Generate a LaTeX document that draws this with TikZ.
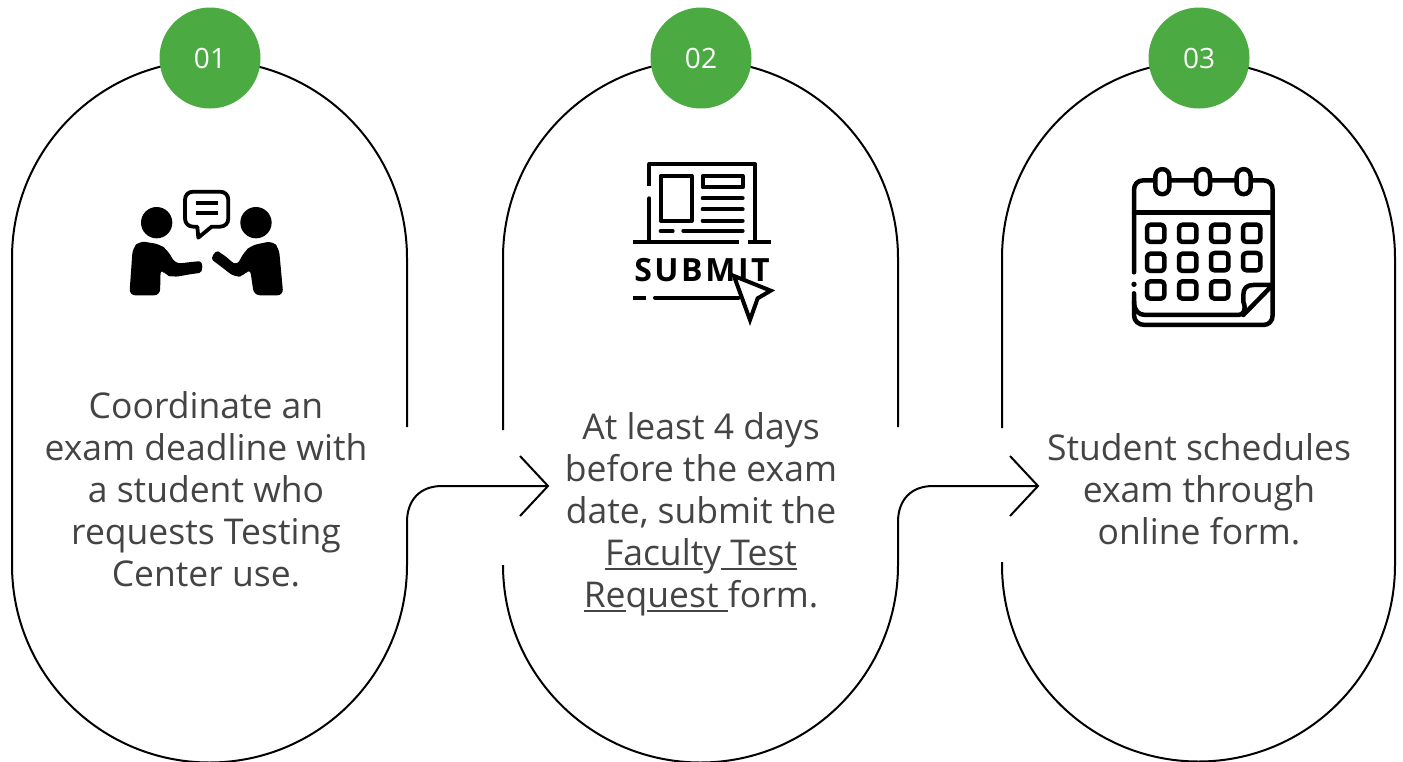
\documentclass[tikz,border=0pt]{standalone}
\usepackage{fontspec}
\setmainfont{Open Sans}
\newfontfamily\subfont[LetterSpace=8]{Open Sans}
\definecolor{grn}{HTML}{4BAA42}
\definecolor{txt}{HTML}{444444}
\tikzset{
  flow/.style={draw=black,line width=2pt,line cap=butt},
  tip/.style={draw=black,line width=2pt},
  badge/.style={circle,fill=grn,minimum size=101pt,inner sep=0pt,text=white,font=\fontsize{28}{32}\selectfont},
  body/.style={align=center,text=txt,font=\fontsize{35.5}{42}\selectfont,inner sep=0pt},
  ico/.style={draw=black,line width=4.5pt,line cap=round,line join=round},
  icothin/.style={draw=black,line width=4pt,line cap=round,line join=round},
}
\newsavebox{\ulbox}
\newcommand{\ulseg}[1]{\sbox{\ulbox}{#1}\rlap{\rule[-4.5pt]{\wd\ulbox}{2pt}}\usebox{\ulbox}}
\begin{document}
\begin{tikzpicture}[x=1pt,y=-1pt]
\useasboundingbox (0,0) rectangle (1403,761);
\fill[white] (0,0) rectangle (1403,761);
% anchors
\coordinate (c1a) at (407,427);
\coordinate (c1end) at (548,486);
\coordinate (c2a) at (898,427);
\coordinate (c2end) at (1038,486);
\coordinate (c2b) at (503,430);
\coordinate (c3b) at (1002,428);
% capsule 1 with connector
\draw[flow] (c1a) -- (407,258) arc[start angle=0,end angle=-180,radius=197.5] -- (12,565)
  arc[start angle=180,end angle=0,radius=197.5] -- (407,522)
  .. controls (407,500) and (420,486) .. (442,486) -- (c1end);
\draw[tip] (520,456) -- (c1end) -- (520,516);
% capsule 2 with connector
\draw[flow] (c2b) -- (503,258) arc[start angle=180,end angle=360,radius=197.5] -- (c2a);
\draw[flow] (503,565) arc[start angle=180,end angle=0,radius=197.5] -- (898,522)
  .. controls (898,500) and (911,486) .. (933,486) -- (c2end);
\draw[tip] (1010,456) -- (c2end) -- (1010,516);
% capsule 3
\draw[flow] (c3b) -- (1002,258) arc[start angle=180,end angle=360,radius=196.5] -- (1395,565)
  arc[start angle=0,end angle=180,radius=196.5] -- (1002,562);
% badges
\node[badge] (b1) at (210,58) {01};
\node[badge] (b2) at (701,58) {02};
\node[badge] (b3) at (1199,58) {03};
% texts
\node[body] (t1) at (206,489) {Coordinate an\\exam deadline with\\a student who\\requests Testing\\Center use.};
\node[body] (t2) at (701,514.5) {At least 4 days\\before the exam\\date, submit the\\\ulseg{Facult}y\ulseg{\ Test}\\\ulseg{Re}q\ulseg{uest\ }form.};
\node[body] (t3) at (1199,489) {Student schedules\\exam through\\online form.};
% icon 1: two people
\begin{scope}[shift={(110,170)},x=0.3333pt,y=-0.3333pt]
\fill (140,158) circle[radius=47];
\fill (438,158) circle[radius=47];
\fill[rounded corners=6pt] (58,376) -- (68,235) -- (88,213) -- (150,223) -- (172,240) -- (197,282) -- (250,275) .. controls (280,273) and (280,308) .. (250,311) -- (190,322) -- (165,314) -- (152,295) -- (150,376) -- cycle;
\fill[rounded corners=6pt] (520,376) -- (507,235) -- (488,213) -- (425,226) -- (403,245) -- (380,288) -- (340,253) .. controls (316,240) and (300,265) .. (323,282) -- (375,322) -- (402,317) -- (420,295) -- (432,376) -- cycle;
\draw[ico,line width=3.8pt] (250,65) -- (330,65) .. controls (345,65) and (355,75) .. (355,90) -- (355,145) .. controls (355,160) and (345,170) .. (330,170) -- (305,170) -- (265,203) -- (262,170) -- (250,170) .. controls (235,170) and (225,160) .. (225,145) -- (225,90) .. controls (225,75) and (235,65) .. (250,65) -- cycle;
\draw[ico,line width=3.8pt,line cap=butt] (258,100) -- (323,100) (258,130) -- (323,130);
\end{scope}
% icon 2: submit
\begin{scope}[shift={(610,150)},x=0.3333pt,y=-0.3333pt]
\draw[icothin,line cap=butt] (118,108) -- (118,42) -- (435,42) -- (435,270);
\draw[icothin] (118,145) -- (118,270);
\draw[icothin] (152,78) rectangle (245,212);
\draw[icothin] (278,78) rectangle (398,112);
\draw[icothin] (278,145) -- (398,145) (278,178) -- (398,178) (278,212) -- (398,212);
\draw[icothin] (152,243) -- (188,243) (220,243) -- (398,243);
\draw[icothin,line cap=butt] (68,276) -- (388,276) (415,276) -- (482,276);
\draw[icothin,line cap=butt] (68,443) -- (108,443);
\draw[icothin,line cap=round] (135,443) -- (385,443);
\node[inner sep=0pt,anchor=base,font=\subfont\bfseries\fontsize{32}{32}\selectfont] (sm) at (276,394) {SUBMIT};
\draw[icothin,fill=white,line join=miter] (372,378) -- (482,422) -- (443,445) -- (420,510) -- cycle;
\end{scope}
% icon 3: calendar
\begin{scope}[shift={(1115,155)},x=0.3333pt,y=-0.3333pt]
\draw[ico] (120,76) -- (85,76) .. controls (68,76) and (57,88) .. (57,105) -- (57,352);
\draw[ico] (165,76) -- (240,76) (288,76) -- (362,76) (410,76) -- (445,76) .. controls (462,76) and (473,88) .. (473,105) -- (473,440) -- (473,480) .. controls (473,498) and (462,510) .. (445,510) -- (90,510) .. controls (70,510) and (57,498) .. (57,480) -- (57,415);
\draw[ico] (57,172) -- (473,172);
\foreach \cx in {142,264,386}{
  \draw[ico] (\cx-21,65) .. controls (\cx-21,35) and (\cx+21,35) .. (\cx+21,65) -- (\cx+21,95) .. controls (\cx+21,125) and (\cx-21,125) .. (\cx-21,95) -- cycle;
}
\fill (57,388) circle[radius=8];
\foreach \cx/\cy in {122/235,218/235,314/235,410/235,122/322,218/322,314/320,410/320,122/405,218/405,314/405}{
  \draw[ico,rounded corners=3.5pt] (\cx-26,\cy-26) rectangle (\cx+26,\cy+26);
}
\draw[ico] (57,440) .. controls (57,465) and (70,480) .. (90,480) -- (370,480) .. controls (385,480) and (395,465) .. (385,440) -- (385,420) .. controls (385,400) and (395,390) .. (415,390) -- (473,390) -- (385,480);
\end{scope}
\end{tikzpicture}
\end{document}
